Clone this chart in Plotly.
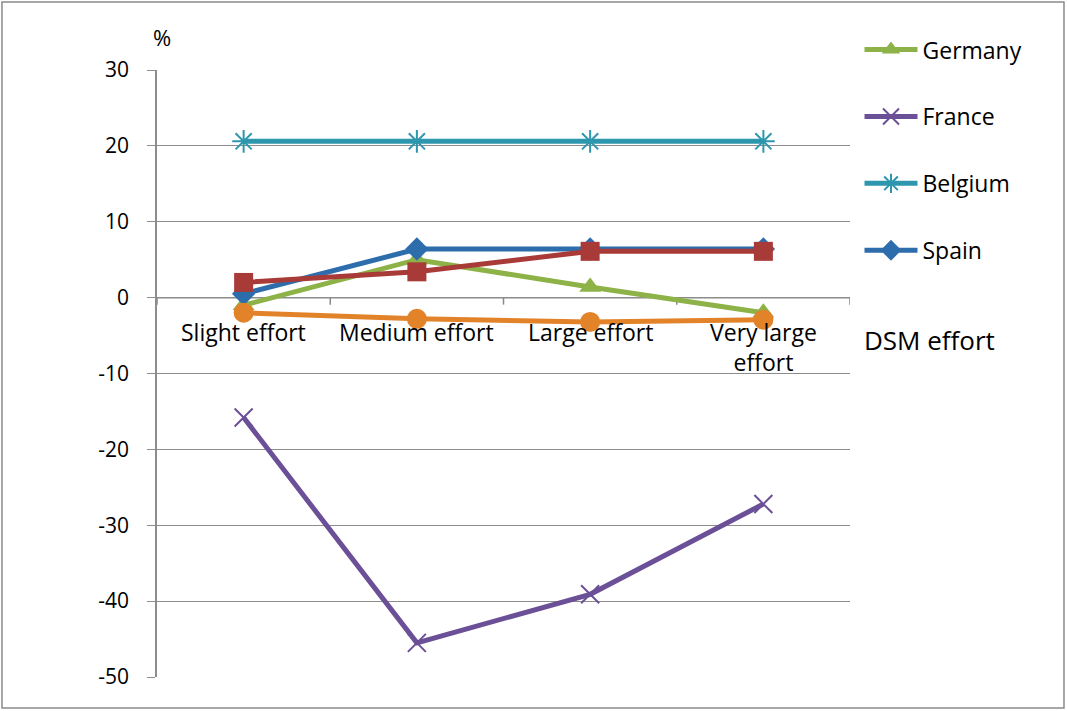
import plotly.graph_objects as go

categories = ["Slight effort", "Medium effort", "Large effort", "Very large effort"]
category_labels = ["Slight effort", "Medium effort", "Large effort", "Very large<br>effort"]

germany = [-1.0, 5.0, 1.4, -2.0]
france = [-15.8, -45.5, -39.1, -27.2]
belgium = [20.6, 20.6, 20.6, 20.6]
spain = [0.5, 6.4, 6.4, 6.4]
series5 = [2.0, 3.4, 6.1, 6.1]
series6 = [-2.0, -2.8, -3.2, -2.9]

y_ticks = [30, 20, 10, 0, -10, -20, -30, -40, -50]
y_tick_text = ["30", "20", "10", "0", "-10", "-20", "-30", "-40", "-50"]

FONT = "'Open Sans', sans-serif"
xs = list(range(len(categories)))

fig = go.Figure()

def add(name, vals, color, symbol, size, show=True, mline=0):
    fig.add_trace(go.Scatter(
        x=xs, y=vals, name=name, mode="lines+markers",
        line=dict(color=color, width=5),
        marker=dict(symbol=symbol, size=size, color=color,
                    line=dict(width=mline, color=color)),
        showlegend=show, legendgroup=name if show else None,
    ))

add("Germany", germany, "#8DB247", "triangle-up", 19)
add("France", france, "#6B4F97", "x-thin-open", 18, mline=2)
add("Belgium", belgium, "#2E97AE", "asterisk-open", 19, mline=2)
add("Spain", spain, "#2E6DAC", "diamond", 18)
add("Series5", series5, "#A83A37", "square", 19, show=False)
add("Series6", series6, "#E2832A", "circle", 20, show=False)

# category labels along the zero line
for i, lab in enumerate(category_labels):
    fig.add_annotation(x=xs[i], y=0, xref="x", yref="y", text=lab, showarrow=False,
                       xanchor="center", yanchor="top", yshift=-16,
                       font=dict(family=FONT, size=23, color="#000"))

# horizontal category axis at y=0 with boundary ticks
fig.add_shape(type="line", xref="x", yref="y", x0=-0.5, x1=3.5, y0=0, y1=0,
              line=dict(color="#898989", width=1.5), layer="below")
for b in [-0.5, 0.5, 1.5, 2.5, 3.5]:
    fig.add_shape(type="line", xref="x", yref="y", x0=b, x1=b, ysizemode="pixel",
                  yanchor=0, y0=0, y1=-7, line=dict(color="#898989", width=1.5), layer="below")

fig.add_annotation(x=0.0072, y=1.054, xref="paper", yref="paper", text="%", showarrow=False,
                   xanchor="center", yanchor="middle", font=dict(family=FONT, size=22, color="#000"))
fig.add_annotation(x=1.115, y=0.555, xref="paper", yref="paper", text="DSM effort", showarrow=False,
                   xanchor="center", yanchor="middle", font=dict(family=FONT, size=26, color="#000"))

# outer border
fig.add_shape(type="rect", xref="paper", yref="paper", x0=-0.2237, x1=1.3088, y0=-0.0511, y1=1.112,
              line=dict(color="#8A8A8A", width=1.5))

fig.update_layout(
    width=1067, height=711,
    margin=dict(l=157, r=217, t=70, b=34),
    plot_bgcolor="white", paper_bgcolor="white",
    font=dict(family=FONT, size=21, color="#000"),
    xaxis=dict(range=[-0.5, 3.5], showticklabels=False, showgrid=False, zeroline=False,
               showline=False, ticks=""),
    yaxis=dict(range=[-50, 30], tickvals=y_ticks, ticktext=y_tick_text, showgrid=True,
               gridcolor="#8C8C8C", gridwidth=1,
               zeroline=False, showline=True, linecolor="#8C8C8C", linewidth=1.5,
               ticks="outside", ticklen=8, tickcolor="#8C8C8C", ticklabelstandoff=14,
               tickfont=dict(size=21)),
    legend=dict(x=1.0137, y=1.069, xanchor="left", yanchor="top", tracegroupgap=34,
                font=dict(family=FONT, size=23), bgcolor="rgba(0,0,0,0)", itemwidth=53),
)

fig.write_html("out.html", post_script="document.body.style.margin='0px';",
               config={"displayModeBar": False})
